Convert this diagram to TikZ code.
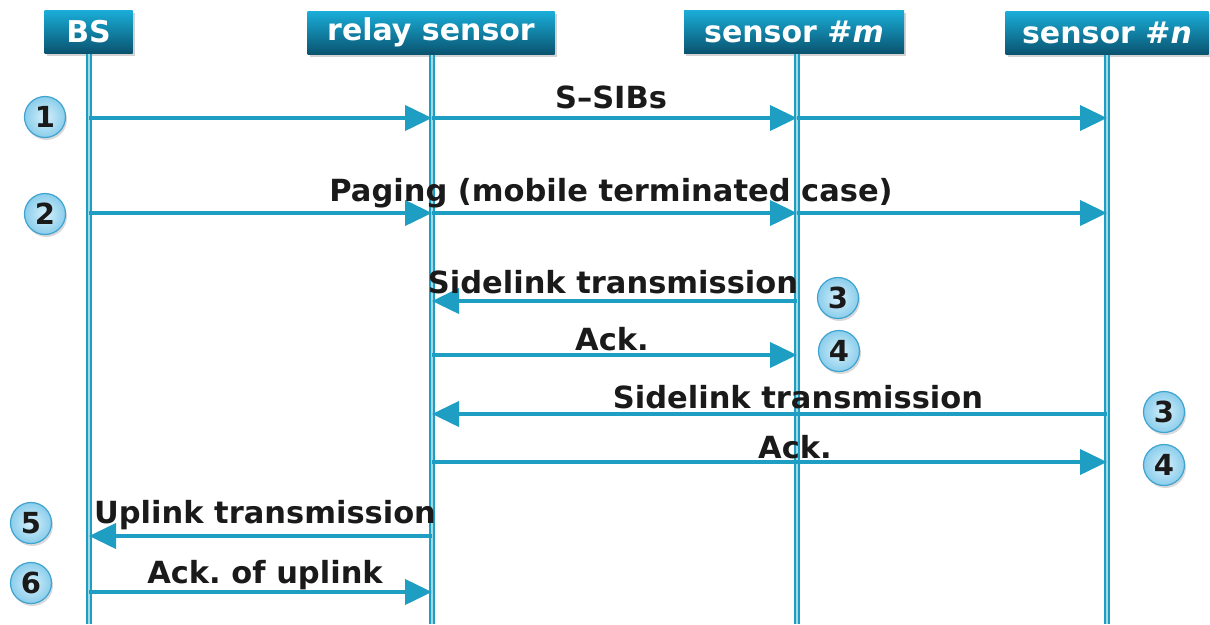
\documentclass[tikz,border=0pt]{standalone}
\usepackage{fontspec}
\setmainfont{DejaVu Sans}
\usetikzlibrary{arrows.meta,shadows,shapes.geometric}
\definecolor{lc}{HTML}{1E9EC2}
\definecolor{hdtop}{HTML}{1AAED9}
\definecolor{hdbot}{HTML}{0A5470}
\definecolor{cin}{HTML}{D6F0FB}
\definecolor{cout}{HTML}{8ACDEB}
\definecolor{cbd}{HTML}{3FA3CF}
\definecolor{txt}{HTML}{1A1A1A}
\frenchspacing
\tikzset{
  hdr/.style={draw=none, top color=hdtop, bottom color=hdbot, text=white,
    font=\fontsize{30}{32}\selectfont\bfseries, minimum height=43pt, inner sep=0pt,
    drop shadow={shadow xshift=2pt, shadow yshift=-3pt, opacity=0.35}},
  life/.style={draw=lc, line width=2pt, double=lc!40, double distance=1.5pt},
  msg/.style={draw=lc, line width=4pt, -{Triangle[length=27pt,width=25pt]}},
  lbl/.style={text=txt, font=\fontsize{30.5}{32}\selectfont\bfseries, inner sep=0pt},
  num/.style={circle, draw=cbd, line width=1.2pt, inner color=cin, outer color=cout,
    minimum size=41pt, inner sep=0pt, text=txt, font=\fontsize{29}{31}\selectfont\bfseries,
    drop shadow={shadow xshift=1.5pt, shadow yshift=-2.5pt, opacity=0.3}}
}
\begin{document}
\begin{tikzpicture}[x=1pt,y=-1pt]
\useasboundingbox (0,0) rectangle (1210,624);
% headers
\node[hdr, minimum width=88pt] (hBS) at (88.5,31.5) {BS};
\node[hdr, minimum width=247pt] (hR) at (431,32.5) {relay sensor};
\node[hdr, minimum width=220pt] (hM) at (794,31.5) {sensor \#\textit{m}};
\node[hdr, minimum width=203pt] (hN) at (1107,32.5) {sensor \#\textit{n}};
% lifeline ends
\coordinate (eBS) at (89,624);
\coordinate (eR) at (432,624);
\coordinate (eM) at (797,624);
\coordinate (eN) at (1107,624);
\coordinate (sBS) at (89,54);
\coordinate (sR) at (432,55);
\coordinate (sM) at (797,54);
\coordinate (sN) at (1107,55);
\draw[life] (sBS) -- (eBS);
\draw[life] (sR) -- (eR);
\draw[life] (sM) -- (eM);
\draw[life] (sN) -- (eN);
% row coordinates
\foreach \r/\y in {1/118,2/213,3/301,4/355,5/414,6/462,7/536,8/592}{
  \coordinate (BS\r) at (89,\y);
  \coordinate (R\r) at (432,\y);
  \coordinate (M\r) at (797,\y);
  \coordinate (N\r) at (1107,\y);
}
% messages
\draw[msg] (BS1) -- (R1);
\draw[msg] (R1) -- (M1);
\draw[msg] (M1) -- (N1);
\draw[msg] (BS2) -- (R2);
\draw[msg] (R2) -- (M2);
\draw[msg] (M2) -- (N2);
\draw[msg] (M3) -- (R3);
\draw[msg] (R4) -- (M4);
\draw[msg] (N5) -- (R5);
\draw[msg] (R6) -- (N6);
\draw[msg] (R7) -- (BS7);
\draw[msg] (BS8) -- (R8);
% labels
\node[lbl] (l1) at (611,97) {S--SIBs};
\node[lbl] (l2) at (611,193) {Paging (mobile terminated case)};
\node[lbl] (l3) at (613,282) {Sidelink transmission};
\node[lbl] (l4) at (612,339) {Ack.};
\node[lbl] (l5) at (798,397) {Sidelink transmission};
\node[lbl] (l6) at (795,447) {Ack.};
\node[lbl] (l7) at (265,515) {Uplink transmission};
\node[lbl] (l8) at (265,575) {Ack. of uplink};
% step numbers
\node[num] (n1) at (45,117) {1};
\node[num] (n2) at (45,214) {2};
\node[num] (n3a) at (838,298) {3};
\node[num] (n4a) at (839,351) {4};
\node[num] (n3b) at (1164,412) {3};
\node[num] (n4b) at (1164,465) {4};
\node[num] (n5) at (31,523) {5};
\node[num] (n6) at (31,583) {6};
\end{tikzpicture}
\end{document}
